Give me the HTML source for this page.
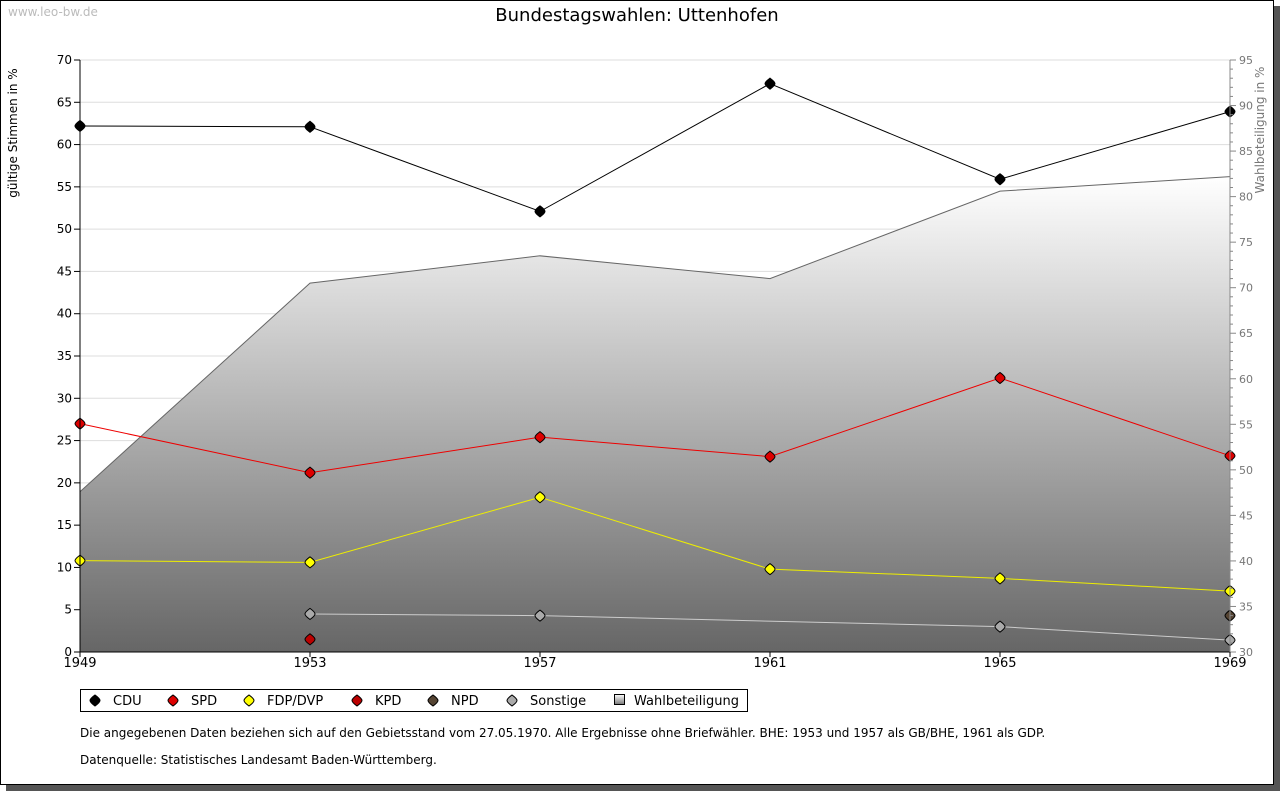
<!DOCTYPE html>
<html><head><meta charset="utf-8"><style>
body{margin:0;background:#fff;font-family:"Liberation Sans","DejaVu Sans",sans-serif;}
svg text{font-family:"DejaVu Sans","Liberation Sans",sans-serif;}
</style></head><body>
<svg id="c" width="1280" height="791" xmlns="http://www.w3.org/2000/svg">
<defs><linearGradient id="g" x1="0" y1="0" x2="0" y2="1"><stop offset="0" stop-color="#ffffff"/><stop offset="1" stop-color="#666666"/></linearGradient>
<linearGradient id="lg" x1="0" y1="0" x2="0" y2="1"><stop offset="0" stop-color="#fff"/><stop offset="1" stop-color="#777"/></linearGradient></defs>
<rect x="6" y="6" width="1274" height="785" fill="#555"/>
<rect x="0.5" y="0.5" width="1273" height="784" fill="#fff" stroke="#000"/>
<text x="8" y="16" font-size="12" fill="#bbb">www.leo-bw.de</text>
<text x="637" y="21" font-size="18" text-anchor="middle" fill="#000">Bundestagswahlen: Uttenhofen</text>
<text transform="translate(17,133) rotate(-90)" font-size="12" text-anchor="middle">gültige Stimmen in %</text>
<text transform="translate(1264,130) rotate(-90)" font-size="12" text-anchor="middle" fill="#777">Wahlbeteiligung in %</text>
<g id="grid"></g><g id="area"></g><g id="series"></g><g id="axes"></g>
<rect x="80.5" y="689.5" width="667" height="22" fill="#fff" stroke="#000"/>
<g id="legend"></g>
<text x="80" y="737" font-size="12">Die angegebenen Daten beziehen sich auf den Gebietsstand vom 27.05.1970. Alle Ergebnisse ohne Briefwähler. BHE: 1953 und 1957 als GB/BHE, 1961 als GDP.</text>
<text x="80" y="764" font-size="12">Datenquelle: Statistisches Landesamt Baden-Württemberg.</text>
</svg>
<script>
const years=[1949,1953,1957,1961,1965,1969];
const cdu=[62.2,62.1,52.1,67.2,55.9,63.9];
const spd=[27.0,21.2,25.4,23.1,32.4,23.2];
const fdp=[10.8,10.6,18.3,9.8,8.7,7.2];
const kpd=[null,1.5,null,null,null,null];
const npd=[null,null,null,null,null,4.3];
const sonst=[null,4.5,4.3,null,3.0,1.4];
const turnout=[47.6,70.5,73.5,71.0,80.6,82.2];
const leftTicks=[0,5,10,15,20,25,30,35,40,45,50,55,60,65,70];
const rightTicks=[30,35,40,45,50,55,60,65,70,75,80,85,90,95];
const NS='http://www.w3.org/2000/svg';
const X0=80,X1=1230,Y0=652,Y1=60;
const x=i=>X0+(X1-X0)*i/(years.length-1);
const y=v=>Y0-(Y0-Y1)*v/70;
const y2=v=>Y0-(Y0-Y1)*(v-30)/65;
function el(t,a,p){const e=document.createElementNS(NS,t);for(const k in a)e.setAttribute(k,a[k]);document.getElementById(p).appendChild(e);return e;}
function marker(cx,cy,fill,g){
 return el('path',{d:`M${cx},${cy-5.5} C${cx+2},${cy-4} ${cx+5},${cy-2} ${cx+5},${cy} C${cx+5},${cy+2} ${cx+2},${cy+4} ${cx},${cy+5.5} C${cx-2},${cy+4} ${cx-5},${cy+2} ${cx-5},${cy} C${cx-5},${cy-2} ${cx-2},${cy-4} ${cx},${cy-5.5}Z`,fill:fill,stroke:'#000'},g);
}
leftTicks.forEach(t=>{
 if(t>0){const l=el('line',{x1:X0,x2:X1,y1:y(t),y2:y(t),stroke:'#ddd'},'grid');
 
 }
 el('line',{x1:X0-6,x2:X0,y1:y(t),y2:y(t),stroke:'#000'},'axes');
 const tx=el('text',{x:X0-8,y:y(t)+4,'font-size':12,'text-anchor':'end'},'axes');tx.textContent=t;
 
 
});
for(let v=30;v<=95;v++){el('line',{x1:X1,x2:X1+(v%5?3:6),y1:y2(v),y2:y2(v),stroke:'#888'},'axes');}
rightTicks.forEach(t=>{const tx=el('text',{x:X1+9,y:y2(t)+4,'font-size':11,fill:'#777'},'axes');tx.textContent=t;
 
 });
years.forEach((yr,i)=>{el('line',{x1:x(i),x2:x(i),y1:Y0,y2:Y0+5,stroke:'#000'},'axes');
 const tx=el('text',{x:x(i),y:Y0+15,'font-size':13,'text-anchor':'middle'},'axes');tx.textContent=yr;
 
 });
el('line',{x1:X0,x2:X0,y1:Y1,y2:Y0,stroke:'#000'},'axes');
el('line',{x1:X0,x2:X1,y1:Y0,y2:Y0,stroke:'#000'},'axes');
el('line',{x1:X1,x2:X1,y1:Y1,y2:Y0,stroke:'#888'},'axes');
let pts=turnout.map((v,i)=>x(i)+','+y2(v)).join(' ');
const ar=el('polygon',{points:X0+','+Y0+' '+pts+' '+X1+','+Y0,fill:'url(#g)'},'area');


const al=el('polyline',{points:pts,fill:'none',stroke:'#666'},'area');


function series(name,data,line,fill){
 const p=data.map((v,i)=>v==null?null:x(i)+','+y(v)).filter(s=>s);
 if(p.length>1){const l=el('polyline',{points:p.join(' '),fill:'none',stroke:line,'stroke-width':1},'series');
 
 }
 data.forEach((v,i)=>{if(v==null)return;
  const m=marker(x(i),y(v),fill,'series');
  
  });
}
series('sonstige',sonst,'#ccc','#aaa');
series('fdp',fdp,'#ee0','#ff0');
series('spd',spd,'#e00','#d00');
series('cdu',cdu,'#000','#000');
series('kpd',kpd,'#b00','#b00');
series('npd',npd,'#543','#543');
const leg=[['CDU','#000',95],['SPD','#d00',173],['FDP/DVP','#ff0',249],['KPD','#b00',357],['NPD','#543',433],['Sonstige','#aaa',512]];
leg.forEach(([n,c,lx])=>{
 const m=marker(lx,700.5,c,'legend');
 
 
 const t=el('text',{x:lx+18,y:705,'font-size':13},'legend');t.textContent=n;
 
 });
const lb=el('rect',{x:614.5,y:694.5,width:10,height:10,fill:'url(#lg)',stroke:'#000'},'legend');


const lt=el('text',{x:634,y:705,'font-size':13},'legend');lt.textContent='Wahlbeteiligung';


</script>
</body></html>
